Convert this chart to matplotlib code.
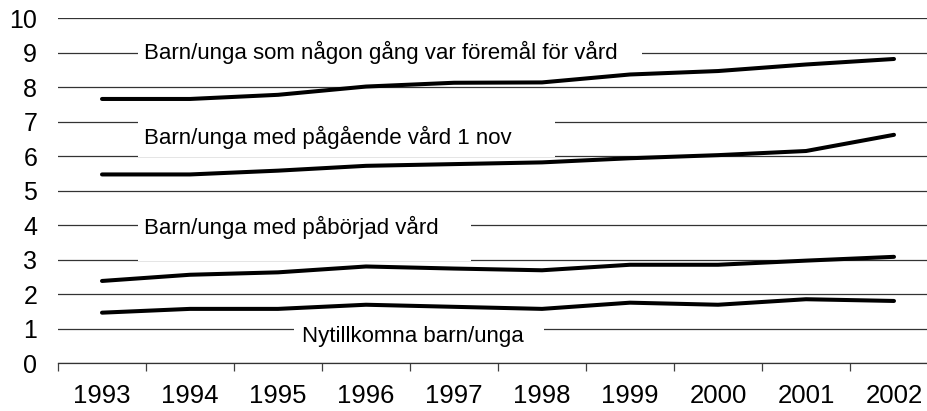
import matplotlib.pyplot as plt
import numpy as np

plt.rcParams['font.family'] = ['Liberation Sans', 'DejaVu Sans']

years = ["1993", "1994", "1995", "1996", "1997", "1998", "1999", "2000", "2001", "2002"]
foremal = [7.66, 7.66, 7.78, 8.02, 8.13, 8.14, 8.37, 8.47, 8.66, 8.82]
pagaende = [5.47, 5.47, 5.58, 5.72, 5.77, 5.82, 5.94, 6.03, 6.15, 6.62]
paborjad = [2.38, 2.56, 2.63, 2.80, 2.74, 2.69, 2.85, 2.85, 2.97, 3.08]
nytillkomna = [1.46, 1.57, 1.57, 1.69, 1.63, 1.57, 1.75, 1.69, 1.85, 1.80]

labels = [
    "Barn/unga som någon gång var föremål för vård",
    "Barn/unga med pågående vård 1 nov",
    "Barn/unga med påbörjad vård",
    "Nytillkomna barn/unga",
]

fig = plt.figure(figsize=(9.27, 4.11), dpi=100)
ax = fig.add_axes([58 / 927, 1 - 363 / 411, 1 - 58 / 927, (363 - 18.3) / 411])

x = np.arange(len(years))
for s in (foremal, pagaende, paborjad, nytillkomna):
    ax.plot(x, s, color="black", lw=2.9, solid_capstyle="round", zorder=3)

ax.set_ylim(0, 10)
ax.set_xlim(-0.5, 9.375)
ax.set_yticks(range(0, 11))
ax.grid(axis="y", color="#333333", lw=0.9)
ax.set_axisbelow(True)

ax.set_xticks(x)
ax.set_xticklabels(years)
ax.set_xticks(np.arange(-0.5, 9.5, 1.0), minor=True)
ax.tick_params(axis="x", which="major", length=0, pad=15, labelsize=18.5)
ax.tick_params(axis="x", which="minor", length=6, color="#404040", width=0.9)
ax.tick_params(axis="y", length=0, pad=15, labelsize=18)

for side in ("left", "right", "top"):
    ax.spines[side].set_visible(False)
ax.spines["bottom"].set_color("#333333")
ax.spines["bottom"].set_linewidth(0.9)

# white label boxes hide the gridlines behind the texts
boxes = [
    (0.41, 8.6, 6.14, 9.4),
    (0.41, 5.97, 5.15, 7.03),
    (0.41, 2.97, 4.19, 4.03),
    (2.18, 0.45, 5.02, 1.15),
]
text_pos = [(0.48, 9.0), (0.48, 6.53), (0.48, 3.92), (2.27, 0.76)]
for (x0, y0, x1, y1), (tx, ty), lab in zip(boxes, text_pos, labels):
    ax.add_patch(plt.Rectangle((x0, y0), x1 - x0, y1 - y0,
                               facecolor="white", edgecolor="none", zorder=1.5))
    ax.text(tx, ty, lab, fontsize=16, va="center", ha="left", zorder=2)

fig.savefig("out.png", dpi=100)
